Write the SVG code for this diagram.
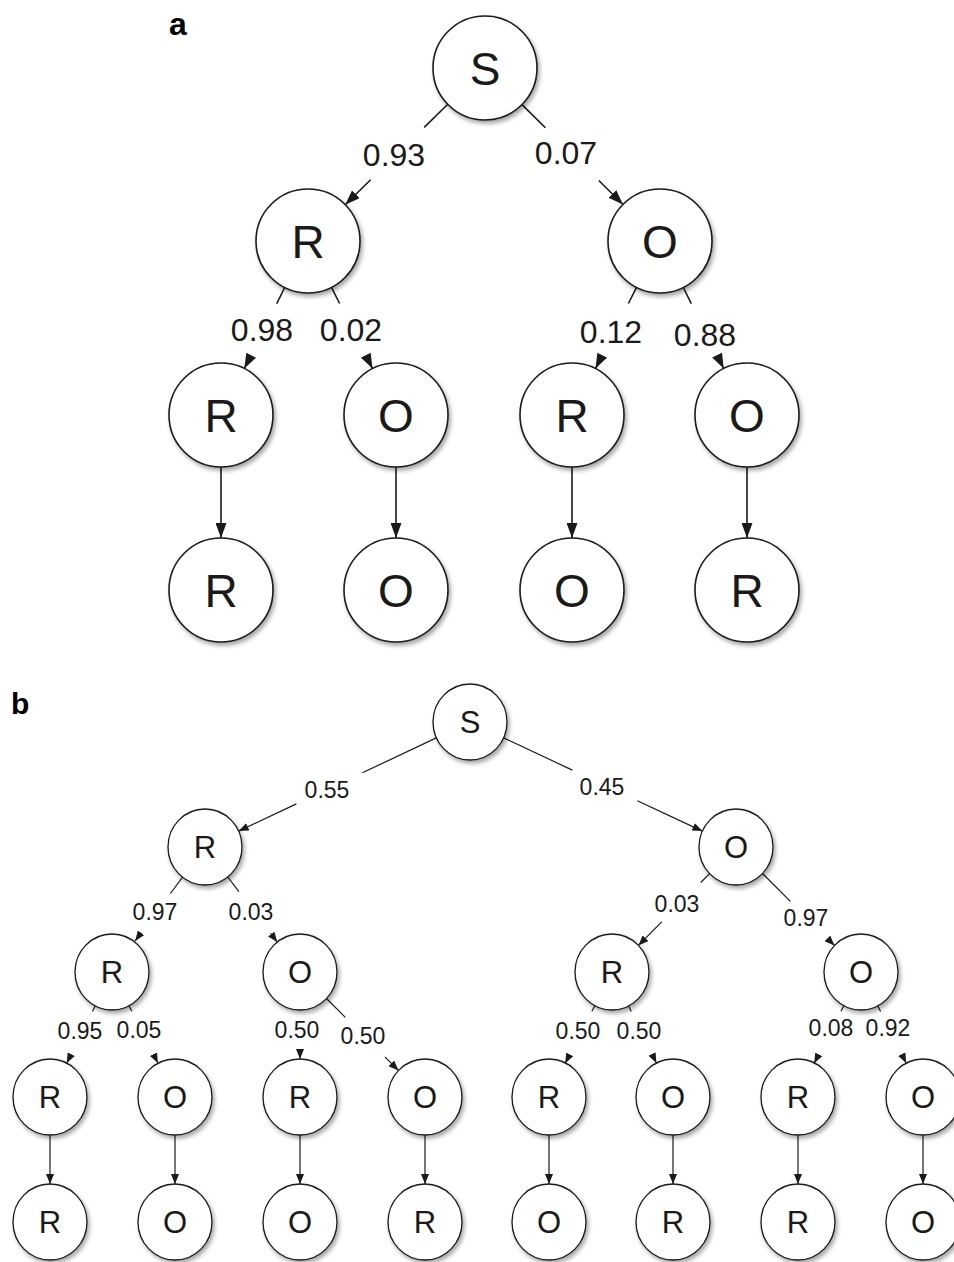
<svg xmlns="http://www.w3.org/2000/svg" width="954" height="1262" viewBox="0 0 954 1262">
<style>
.n circle, .n ellipse { fill:#fff; stroke:#1a1a1a; filter:url(#sh); }
.na circle { stroke-width:1.6; }
.nb ellipse { stroke-width:1.3; }
.lt { font-family:"Liberation Sans", Arial, sans-serif; fill:#1a1a1a; text-anchor:middle; }
.la { font-size:46px; }
.lb { font-size:31px; }
.ea { font-size:32px; }
.eb { font-size:23px; }
.panel { font-family:"Liberation Sans", Arial, sans-serif; font-weight:bold; fill:#000; }
.ca line { stroke:#1a1a1a; stroke-width:1.6; fill:none; }
.cb line { stroke:#1a1a1a; stroke-width:1.2; fill:none; }
.ca line.ar { marker-end:url(#ha); }
.cb line.ar { marker-end:url(#hb); }
</style>
<defs>
<filter id="sh" x="-20%" y="-20%" width="150%" height="150%">
<feDropShadow dx="2" dy="3" stdDeviation="2" flood-color="#000" flood-opacity="0.35"/>
</filter>
<marker id="ha" markerUnits="userSpaceOnUse" markerWidth="15" markerHeight="11" refX="15" refY="5.5" orient="auto"><path d="M0,0 L15,5.5 L0,11 z" fill="#1a1a1a"/></marker>
<marker id="hb" markerUnits="userSpaceOnUse" markerWidth="10" markerHeight="8" refX="10" refY="4" orient="auto"><path d="M0,0 L10,4 L0,8 z" fill="#1a1a1a"/></marker>
</defs>
<rect width="954" height="1262" fill="#fff"/>
<text class="panel" x="169" y="35" font-size="32">a</text>
<text class="panel" x="11" y="714" font-size="30">b</text>

<g id="connectors-a" class="ca">
<line x1="447.8" y1="104.3" x2="424.2" y2="127.4"/>
<line class="ar" x1="370.6" y1="179.8" x2="345.2" y2="204.7"/>
<line x1="522.0" y1="104.6" x2="545.4" y2="127.8"/>
<line class="ar" x1="598.8" y1="180.5" x2="623" y2="204.5"/>
<line x1="284.7" y1="287.5" x2="276.7" y2="303.6"/>
<line class="ar" x1="249.5" y1="358.5" x2="244.3" y2="368.5"/>
<line x1="331.5" y1="287.4" x2="339.6" y2="303.5"/>
<line class="ar" x1="367.6" y1="358.8" x2="372.5" y2="368.6"/>
<line x1="636.5" y1="287.4" x2="628.4" y2="303.5"/>
<line class="ar" x1="600" y1="359.7" x2="595.5" y2="368.6"/>
<line x1="683.3" y1="287.5" x2="691.3" y2="303.6"/>
<line class="ar" x1="719.5" y1="360" x2="723.7" y2="368.5"/>
<line class="ar" x1="221" y1="467" x2="221" y2="538"/>
<line class="ar" x1="396" y1="467" x2="396" y2="538"/>
<line class="ar" x1="572" y1="467" x2="572" y2="538"/>
<line class="ar" x1="747" y1="467" x2="747" y2="538"/>
</g>
<g id="edge-labels-a" class="lt ea">
<text x="394" y="165.5">0.93</text>
<text x="566" y="163.5">0.07</text>
<text x="262" y="340.5">0.98</text>
<text x="351" y="340.5">0.02</text>
<text x="611" y="343">0.12</text>
<text x="705" y="345.5">0.88</text>
</g>

<g id="a-S" class="n na"><circle cx="485" cy="68" r="52"/><text class="lt la" x="485" y="84.5">S</text></g>
<g id="a-R1" class="n na"><circle cx="308" cy="241" r="52"/><text class="lt la" x="308" y="257.5">R</text></g>
<g id="a-O1" class="n na"><circle cx="660" cy="241" r="52"/><text class="lt la" x="660" y="257.5">O</text></g>
<g id="a-R2a" class="n na"><circle cx="221" cy="415" r="52"/><text class="lt la" x="221" y="431.5">R</text></g>
<g id="a-O2a" class="n na"><circle cx="396" cy="415" r="52"/><text class="lt la" x="396" y="431.5">O</text></g>
<g id="a-R2b" class="n na"><circle cx="572" cy="415" r="52"/><text class="lt la" x="572" y="431.5">R</text></g>
<g id="a-O2b" class="n na"><circle cx="747" cy="415" r="52"/><text class="lt la" x="747" y="431.5">O</text></g>
<g id="a-R3a" class="n na"><circle cx="221" cy="590" r="52"/><text class="lt la" x="221" y="606.5">R</text></g>
<g id="a-O3a" class="n na"><circle cx="396" cy="590" r="52"/><text class="lt la" x="396" y="606.5">O</text></g>
<g id="a-O3b" class="n na"><circle cx="572" cy="590" r="52"/><text class="lt la" x="572" y="606.5">O</text></g>
<g id="a-R3b" class="n na"><circle cx="747" cy="590" r="52"/><text class="lt la" x="747" y="606.5">R</text></g>

<g id="connectors-b" class="cb">
<line x1="436.3" y1="737.9" x2="362.4" y2="772.8"/>
<line class="ar" x1="296.4" y1="803.9" x2="238.7" y2="831.1"/>
<line x1="503.8" y1="737.9" x2="572.3" y2="770.1"/>
<line class="ar" x1="637.4" y1="800.7" x2="702.3" y2="831.1"/>
<line x1="182.6" y1="877.2" x2="170.4" y2="893.5"/>
<line class="ar" x1="141.1" y1="932.8" x2="135.2" y2="940.9"/>
<line x1="227.8" y1="877" x2="238.9" y2="891.6"/>
<line class="ar" x1="270.4" y1="933" x2="277.2" y2="942.1"/>
<line x1="709.6" y1="873.6" x2="700.8" y2="882.5"/>
<line class="ar" x1="661.7" y1="921.9" x2="638.4" y2="945.4"/>
<line x1="762.5" y1="873.5" x2="790.4" y2="901.4"/>
<line class="ar" x1="827.9" y1="938.9" x2="834.5" y2="945.5"/>
<line x1="95.2" y1="1005.9" x2="92.4" y2="1011.4"/>
<line class="ar" x1="71.1" y1="1054.4" x2="66.8" y2="1063.1"/>
<line x1="129" y1="1005.7" x2="131.8" y2="1011.3"/>
<line class="ar" x1="153.4" y1="1054.1" x2="157.9" y2="1063.1"/>
<line class="ar" x1="300" y1="1050" x2="300" y2="1059"/>
<line x1="326.5" y1="998.5" x2="345.3" y2="1017.3"/>
<line class="ar" x1="384.9" y1="1056.9" x2="398.5" y2="1070.5"/>
<line x1="594.8" y1="1005.7" x2="591.9" y2="1011.2"/>
<line class="ar" x1="569.6" y1="1054.8" x2="565.2" y2="1063.3"/>
<line x1="628.6" y1="1006" x2="631.3" y2="1011.5"/>
<line class="ar" x1="652.3" y1="1054.7" x2="656.4" y2="1063"/>
<line x1="843.8" y1="1005.7" x2="841" y2="1011.2"/>
<line class="ar" x1="818.6" y1="1054.8" x2="814.2" y2="1063.3"/>
<line x1="877.8" y1="1005.9" x2="880.6" y2="1011.4"/>
<line class="ar" x1="901.9" y1="1054.4" x2="906.2" y2="1063.1"/>
<line class="ar" x1="50" y1="1135" x2="50" y2="1184"/>
<line class="ar" x1="175" y1="1135" x2="175" y2="1184"/>
<line class="ar" x1="300" y1="1135" x2="300" y2="1184"/>
<line class="ar" x1="425" y1="1135" x2="425" y2="1184"/>
<line class="ar" x1="549" y1="1135" x2="549" y2="1184"/>
<line class="ar" x1="673" y1="1135" x2="673" y2="1184"/>
<line class="ar" x1="798" y1="1135" x2="798" y2="1184"/>
<line class="ar" x1="923" y1="1135" x2="923" y2="1184"/>
</g>
<g id="edge-labels-b" class="lt eb">
<text x="327" y="798">0.55</text>
<text x="602" y="795">0.45</text>
<text x="155" y="920">0.97</text>
<text x="251" y="920">0.03</text>
<text x="677" y="912">0.03</text>
<text x="806" y="926">0.97</text>
<text x="80" y="1039">0.95</text>
<text x="139" y="1038">0.05</text>
<text x="297" y="1038">0.50</text>
<text x="363" y="1044">0.50</text>
<text x="578" y="1039">0.50</text>
<text x="639" y="1039">0.50</text>
<text x="831" y="1036">0.08</text>
<text x="888" y="1036">0.92</text>
</g>

<g id="b-S" class="n nb"><ellipse cx="470" cy="722" rx="37" ry="38"/><text class="lt lb" x="470" y="733">S</text></g>
<g id="b-R1" class="n nb"><ellipse cx="205" cy="847" rx="37" ry="38"/><text class="lt lb" x="205" y="858">R</text></g>
<g id="b-O1" class="n nb"><ellipse cx="736" cy="847" rx="37" ry="38"/><text class="lt lb" x="736" y="858">O</text></g>
<g id="b-R2a" class="n nb"><ellipse cx="112" cy="972" rx="37" ry="38"/><text class="lt lb" x="112" y="983">R</text></g>
<g id="b-O2a" class="n nb"><ellipse cx="300" cy="972" rx="37" ry="38"/><text class="lt lb" x="300" y="983">O</text></g>
<g id="b-R2b" class="n nb"><ellipse cx="612" cy="972" rx="37" ry="38"/><text class="lt lb" x="612" y="983">R</text></g>
<g id="b-O2b" class="n nb"><ellipse cx="861" cy="972" rx="37" ry="38"/><text class="lt lb" x="861" y="983">O</text></g>
<g id="b-L3-1" class="n nb"><ellipse cx="50" cy="1097" rx="37" ry="38"/><text class="lt lb" x="50" y="1108">R</text></g>
<g id="b-L3-2" class="n nb"><ellipse cx="175" cy="1097" rx="37" ry="38"/><text class="lt lb" x="175" y="1108">O</text></g>
<g id="b-L3-3" class="n nb"><ellipse cx="300" cy="1097" rx="37" ry="38"/><text class="lt lb" x="300" y="1108">R</text></g>
<g id="b-L3-4" class="n nb"><ellipse cx="425" cy="1097" rx="37" ry="38"/><text class="lt lb" x="425" y="1108">O</text></g>
<g id="b-L3-5" class="n nb"><ellipse cx="549" cy="1097" rx="37" ry="38"/><text class="lt lb" x="549" y="1108">R</text></g>
<g id="b-L3-6" class="n nb"><ellipse cx="673" cy="1097" rx="37" ry="38"/><text class="lt lb" x="673" y="1108">O</text></g>
<g id="b-L3-7" class="n nb"><ellipse cx="798" cy="1097" rx="37" ry="38"/><text class="lt lb" x="798" y="1108">R</text></g>
<g id="b-L3-8" class="n nb"><ellipse cx="923" cy="1097" rx="37" ry="38"/><text class="lt lb" x="923" y="1108">O</text></g>
<g id="b-L4-1" class="n nb"><ellipse cx="50" cy="1222" rx="37" ry="38"/><text class="lt lb" x="50" y="1233">R</text></g>
<g id="b-L4-2" class="n nb"><ellipse cx="175" cy="1222" rx="37" ry="38"/><text class="lt lb" x="175" y="1233">O</text></g>
<g id="b-L4-3" class="n nb"><ellipse cx="300" cy="1222" rx="37" ry="38"/><text class="lt lb" x="300" y="1233">O</text></g>
<g id="b-L4-4" class="n nb"><ellipse cx="425" cy="1222" rx="37" ry="38"/><text class="lt lb" x="425" y="1233">R</text></g>
<g id="b-L4-5" class="n nb"><ellipse cx="549" cy="1222" rx="37" ry="38"/><text class="lt lb" x="549" y="1233">O</text></g>
<g id="b-L4-6" class="n nb"><ellipse cx="673" cy="1222" rx="37" ry="38"/><text class="lt lb" x="673" y="1233">R</text></g>
<g id="b-L4-7" class="n nb"><ellipse cx="798" cy="1222" rx="37" ry="38"/><text class="lt lb" x="798" y="1233">R</text></g>
<g id="b-L4-8" class="n nb"><ellipse cx="923" cy="1222" rx="37" ry="38"/><text class="lt lb" x="923" y="1233">O</text></g>
</svg>
